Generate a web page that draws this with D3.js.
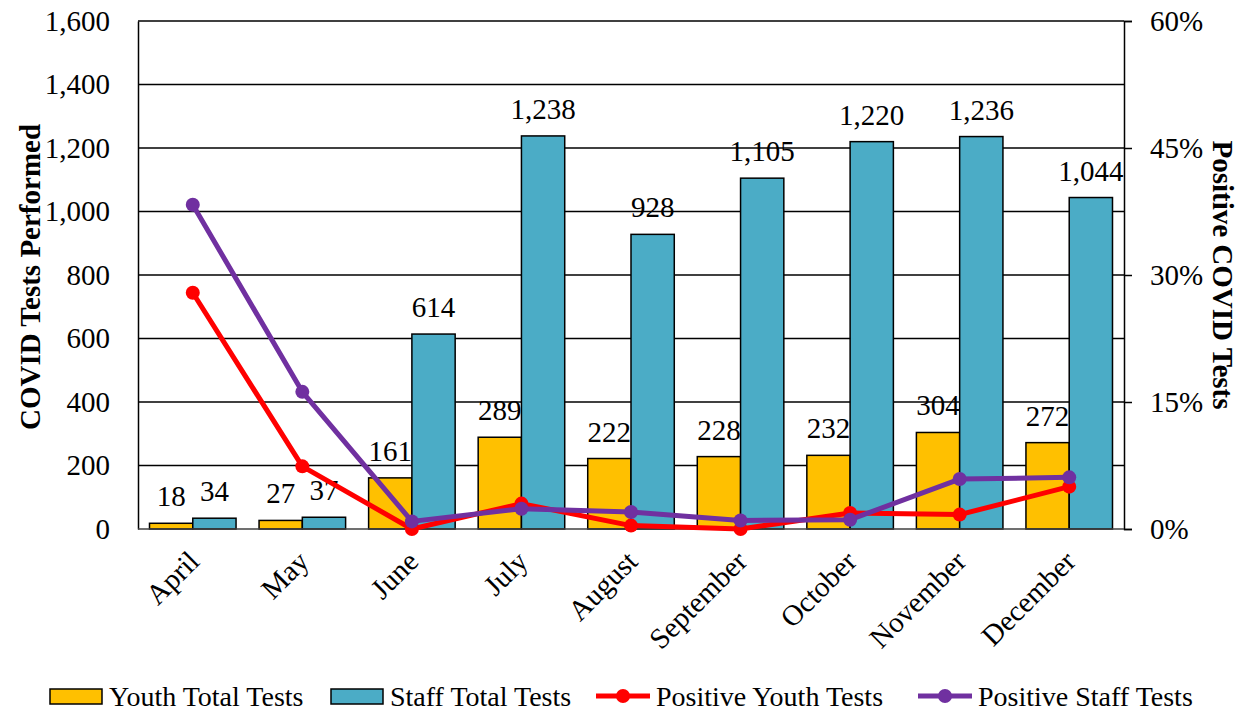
<!DOCTYPE html>
<html>
<head>
<meta charset="utf-8">
<script src="https://cdn.jsdelivr.net/npm/d3@7"></script>
<style>
  body { margin: 0; background: #fff; }
  text { font-family: "Liberation Serif", "Times New Roman", serif; fill: #000; }
</style>
</head>
<body>
<svg id="chart" width="1248" height="713"></svg>
<script>
// Data
const months = ["April", "May", "June", "July", "August", "September", "October", "November", "December"];
const youthTests = [18, 27, 161, 289, 222, 228, 232, 304, 272];
const staffTests = [34, 37, 614, 1238, 928, 1105, 1220, 1236, 1044];
const youthPositive = [27.9, 7.4, 0.0, 3.0, 0.4, 0.0, 1.9, 1.7, 5.0];
const staffPositive = [38.3, 16.2, 0.9, 2.4, 2.0, 1.0, 1.1, 5.9, 6.1];
const leftTicks = [0, 200, 400, 600, 800, 1000, 1200, 1400, 1600];
const rightTicks = [0, 15, 30, 45, 60];

const colors = {youth: "#FFC000", staff: "#4BACC6", youthPos: "#FF0000", staffPos: "#7030A0"};

const margin = {top: 21, right: 124, bottom: 184, left: 138},
    width = 1248 - margin.left - margin.right,
    height = 713 - margin.top - margin.bottom;

const svg = d3.select("#chart")
  .append("g")
    .attr("transform", `translate(${margin.left},${margin.top})`);

// Scales
const x = d3.scaleBand()
    .domain(months)
    .range([0, width])
    .padding(0);

const xSub = d3.scaleBand()
    .domain(["youth", "staff"])
    .range([x.step() * 0.105, x.step() * 0.895]);

const y = d3.scaleLinear().domain([0, 1600]).range([height, 0]);
const yPct = d3.scaleLinear().domain([0, 60]).range([height, 0]);

// Gridlines
svg.append("g")
  .selectAll("line")
  .data(leftTicks.slice(1))
  .join("line")
    .attr("x1", 0)
    .attr("x2", width)
    .attr("y1", d => y(d))
    .attr("y2", d => y(d))
    .attr("stroke", "#000")
    .attr("stroke-width", 1.5);

// Left axis
const yAxis = svg.append("g")
    .call(d3.axisLeft(y).tickValues(leftTicks).tickSize(0).tickPadding(28).tickFormat(d3.format(",")));
yAxis.select(".domain").attr("stroke", "#000").attr("stroke-width", 1.5);
yAxis.selectAll("text").style("font-size", "29px").style("font-family", "Liberation Serif");

// Right axis
const yAxisR = svg.append("g")
    .attr("transform", `translate(${width},0)`)
    .call(d3.axisRight(yPct).tickValues(rightTicks).tickSize(8).tickPadding(18).tickFormat(d => d + "%"));
yAxisR.select(".domain").attr("stroke", "#000").attr("stroke-width", 1.5);
yAxisR.selectAll(".tick line").attr("stroke", "#000").attr("stroke-width", 1.5);
yAxisR.selectAll("text").style("font-size", "29px").style("font-family", "Liberation Serif");

// Bars
const groups = svg.append("g")
  .selectAll("g")
  .data(months.map((m, i) => ({month: m, youth: youthTests[i], staff: staffTests[i]})))
  .join("g")
    .attr("transform", d => `translate(${x(d.month)},0)`);

groups.selectAll("rect")
  .data(d => [{key: "youth", value: d.youth}, {key: "staff", value: d.staff}])
  .join("rect")
    .attr("x", d => xSub(d.key))
    .attr("y", d => y(d.value))
    .attr("width", xSub.bandwidth())
    .attr("height", d => height - y(d.value))
    .attr("fill", d => colors[d.key])
    .attr("stroke", "#000")
    .attr("stroke-width", 1.5);

groups.selectAll("text.lbl")
  .data(d => [{key: "youth", value: d.youth}, {key: "staff", value: d.staff}])
  .join("text")
    .attr("class", "lbl")
    .attr("x", d => xSub(d.key) + xSub.bandwidth() / 2)
    .attr("y", d => y(d.value) - 17)
    .attr("text-anchor", "middle")
    .style("font-size", "29px")
    .text(d => d3.format(",")(d.value));

// X axis line
svg.append("line")
    .attr("x1", 0).attr("x2", width)
    .attr("y1", height).attr("y2", height)
    .attr("stroke", "#404040")
    .attr("stroke-width", 1.5);

// X labels
svg.append("g")
  .selectAll("text")
  .data(months)
  .join("text")
    .attr("transform", d => `translate(${x(d) + x.bandwidth() / 2 + 1},${height + 27}) rotate(-45)`)
    .attr("text-anchor", "end")
    .attr("dy", "0.35em")
    .style("font-size", "29px")
    .text(d => d);

// Lines
const cx = (d, i) => x(months[i]) + x.bandwidth() / 2;
const seriesList = [
  {name: "youthPos", values: youthPositive},
  {name: "staffPos", values: staffPositive}
];

seriesList.forEach(s => {
  const line = d3.line().x((d, i) => cx(d, i)).y(d => yPct(d));
  svg.append("path")
      .datum(s.values)
      .attr("fill", "none")
      .attr("stroke", colors[s.name])
      .attr("stroke-width", 5)
      .attr("stroke-linejoin", "round")
      .attr("d", line);
  svg.append("g")
    .selectAll("circle")
    .data(s.values)
    .join("circle")
      .attr("cx", (d, i) => cx(d, i))
      .attr("cy", d => yPct(d))
      .attr("r", 7)
      .attr("fill", colors[s.name]);
});

// Axis titles
svg.append("text")
    .attr("transform", `translate(${-margin.left + 40},${height / 2 + 2}) rotate(-90)`)
    .attr("text-anchor", "middle")
    .style("font-size", "29px")
    .style("font-weight", "bold")
    .text("COVID Tests Performed");

svg.append("text")
    .attr("transform", `translate(${width + 89},${height / 2}) rotate(90)`)
    .attr("text-anchor", "middle")
    .style("font-size", "29px")
    .style("font-weight", "bold")
    .text("Positive COVID Tests");

// Legend
const legendItems = [
  {label: "Youth Total Tests", key: "youth", type: "bar", x: 50},
  {label: "Staff Total Tests", key: "staff", type: "bar", x: 331},
  {label: "Positive Youth Tests", key: "youthPos", type: "line", x: 596},
  {label: "Positive Staff Tests", key: "staffPos", type: "line", x: 918}
];

const legend = d3.select("#chart").append("g")
    .attr("transform", "translate(0,696)");

const li = legend.selectAll("g")
  .data(legendItems)
  .join("g")
    .attr("transform", d => `translate(${d.x},0)`);

li.filter(d => d.type === "bar").append("rect")
    .attr("x", 0).attr("y", -7)
    .attr("width", 52).attr("height", 15)
    .attr("fill", d => colors[d.key])
    .attr("stroke", "#000")
    .attr("stroke-width", 1.5);

li.filter(d => d.type === "line").append("line")
    .attr("x1", 0).attr("x2", 54)
    .attr("y1", 0).attr("y2", 0)
    .attr("stroke", d => colors[d.key])
    .attr("stroke-width", 5);

li.filter(d => d.type === "line").append("circle")
    .attr("cx", 27).attr("cy", 0).attr("r", 7)
    .attr("fill", d => colors[d.key]);

li.append("text")
    .attr("x", d => d.type === "bar" ? 59 : 60)
    .attr("dy", "0.35em")
    .style("font-size", "28px")
    .text(d => d.label);
</script>
</body>
</html>
